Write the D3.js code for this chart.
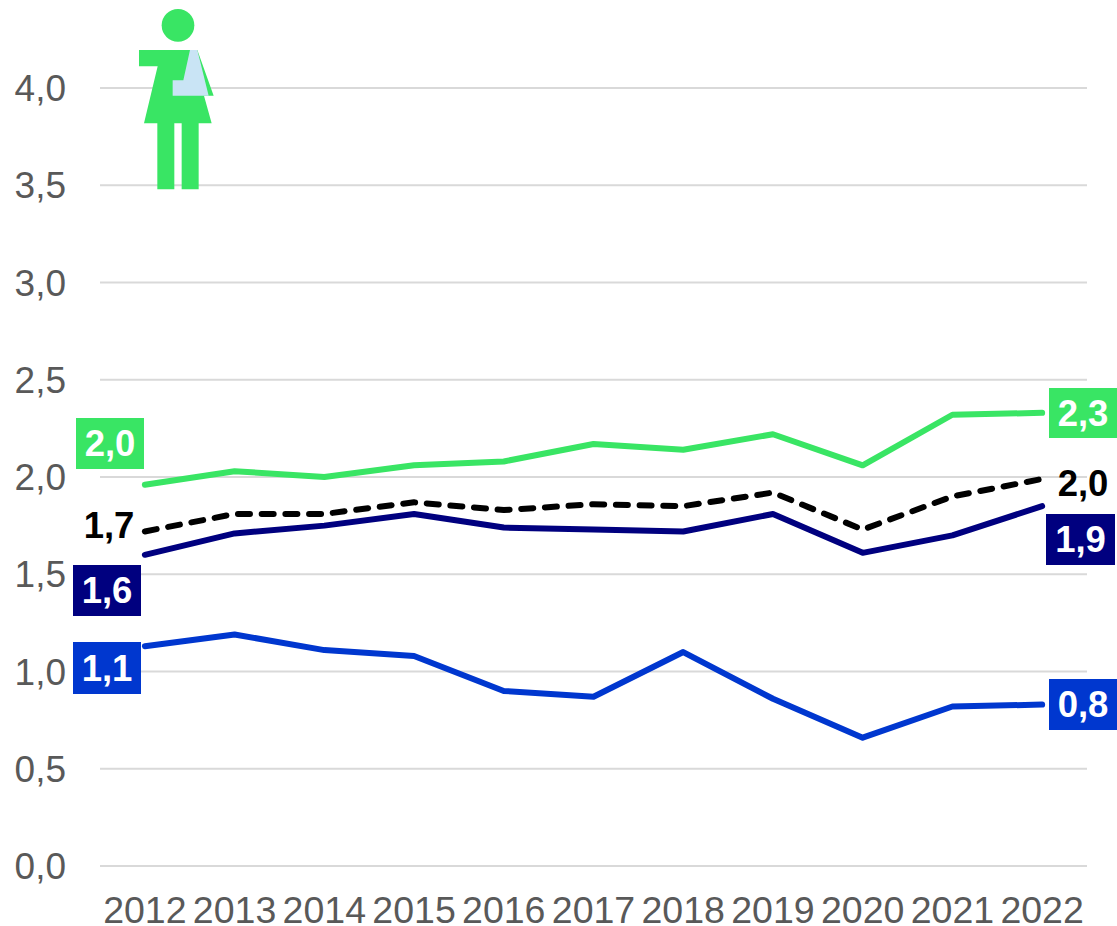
<!DOCTYPE html>
<html><head><meta charset="utf-8">
<script src="https://cdn.jsdelivr.net/npm/d3@7"></script>
<style>html,body{margin:0;padding:0;background:#fff}svg{display:block}text{font-family:"Liberation Sans",Arial,sans-serif}</style>
</head><body><svg id="c" width="1117" height="926"></svg>
<script>
const years=[2012,2013,2014,2015,2016,2017,2018,2019,2020,2021,2022];
const yTicks=[0,0.5,1,1.5,2,2.5,3,3.5,4];
const green=[1.96,2.03,2.00,2.06,2.08,2.17,2.14,2.22,2.06,2.32,2.33];
const black=[1.72,1.81,1.81,1.87,1.83,1.86,1.85,1.92,1.73,1.90,1.99];
const navy=[1.60,1.71,1.75,1.81,1.74,1.73,1.72,1.81,1.61,1.70,1.85];
const blue=[1.13,1.19,1.11,1.08,0.90,0.87,1.10,0.86,0.66,0.82,0.83];
const seriesList=[
 {v:green,c:"#39e564"},
 {v:black,c:"#000000",dash:"12 11.7"},
 {v:navy,c:"#00007f"},
 {v:blue,c:"#0037cf"}];
const labels=[
 {t:"2,0",x:76,y:418,w:68,h:51,bg:"#39e564"},
 {t:"1,7",x:75,y:500,w:68,h:51,fg:"#000"},
 {t:"1,6",x:73,y:565,w:68,h:51,bg:"#00007f"},
 {t:"1,1",x:73,y:642,w:68,h:52,bg:"#0037cf"},
 {t:"2,3",x:1049,y:388,w:68,h:50,bg:"#39e564"},
 {t:"2,0",x:1049,y:458,w:68,h:51,fg:"#000"},
 {t:"1,9",x:1046,y:514,w:69,h:51,bg:"#00007f"},
 {t:"0,8",x:1049,y:679,w:68,h:51,bg:"#0037cf"}];
const fmt=d=>d.toFixed(1).replace(".",",");
const svg=d3.select("#c");
const x=d3.scalePoint().domain(years).range([100,1087]).padding(0.5);
const y=d3.scaleLinear().domain([0,4]).range([866,88]);

svg.append("g").selectAll("line").data(yTicks).join("line")
 .attr("x1",100).attr("x2",1087).attr("y1",d=>y(d)).attr("y2",d=>y(d))
 .attr("stroke","#d9d9d9").attr("stroke-width",2);
svg.append("g").selectAll("text").data(yTicks).join("text")
 .attr("x",66).attr("y",d=>y(d)+13).attr("text-anchor","end")
 .attr("font-size",37).attr("fill","#595959").text(fmt);
svg.append("g").selectAll("text").data(years).join("text")
 .attr("x",d=>x(d)).attr("y",923).attr("text-anchor","middle")
 .attr("font-size",37.5).attr("fill","#595959").text(d=>d);

const line=d3.line().x((d,i)=>x(years[i])).y(d=>y(d));
svg.append("g").selectAll("path").data(seriesList).join("path")
 .attr("d",d=>line(d.v)).attr("fill","none").attr("stroke",d=>d.c)
 .attr("stroke-width",6).attr("stroke-linecap","round").attr("stroke-linejoin","round")
 .attr("stroke-dasharray",d=>d.dash||null);

const lg=svg.append("g").selectAll("g").data(labels).join("g");
lg.filter(d=>d.bg).append("rect").attr("x",d=>d.x).attr("y",d=>d.y).attr("width",d=>d.w).attr("height",d=>d.h).attr("fill",d=>d.bg);
lg.append("text").attr("x",d=>d.x+d.w/2).attr("y",d=>d.y+d.h/2+12.5)
 .attr("text-anchor","middle").attr("font-size",36.5).attr("font-weight","bold")
 .attr("fill",d=>d.fg||"#fff").text(d=>d.t);

const icon=svg.append("g").attr("transform","translate(120,0) scale(0.3333)");
icon.append("circle").attr("cx",174).attr("cy",76).attr("r",49).attr("fill","#39e564");
icon.append("path").attr("fill","#39e564")
 .attr("d","M57,150H232L281,287H252L275,370H236V568H185V370H163V568H112V370H72L113,199H57Z");
icon.append("path").attr("fill","#c9e4f5")
 .attr("d","M210,150H232L266,287H158V241H190Z");
</script></body></html>
